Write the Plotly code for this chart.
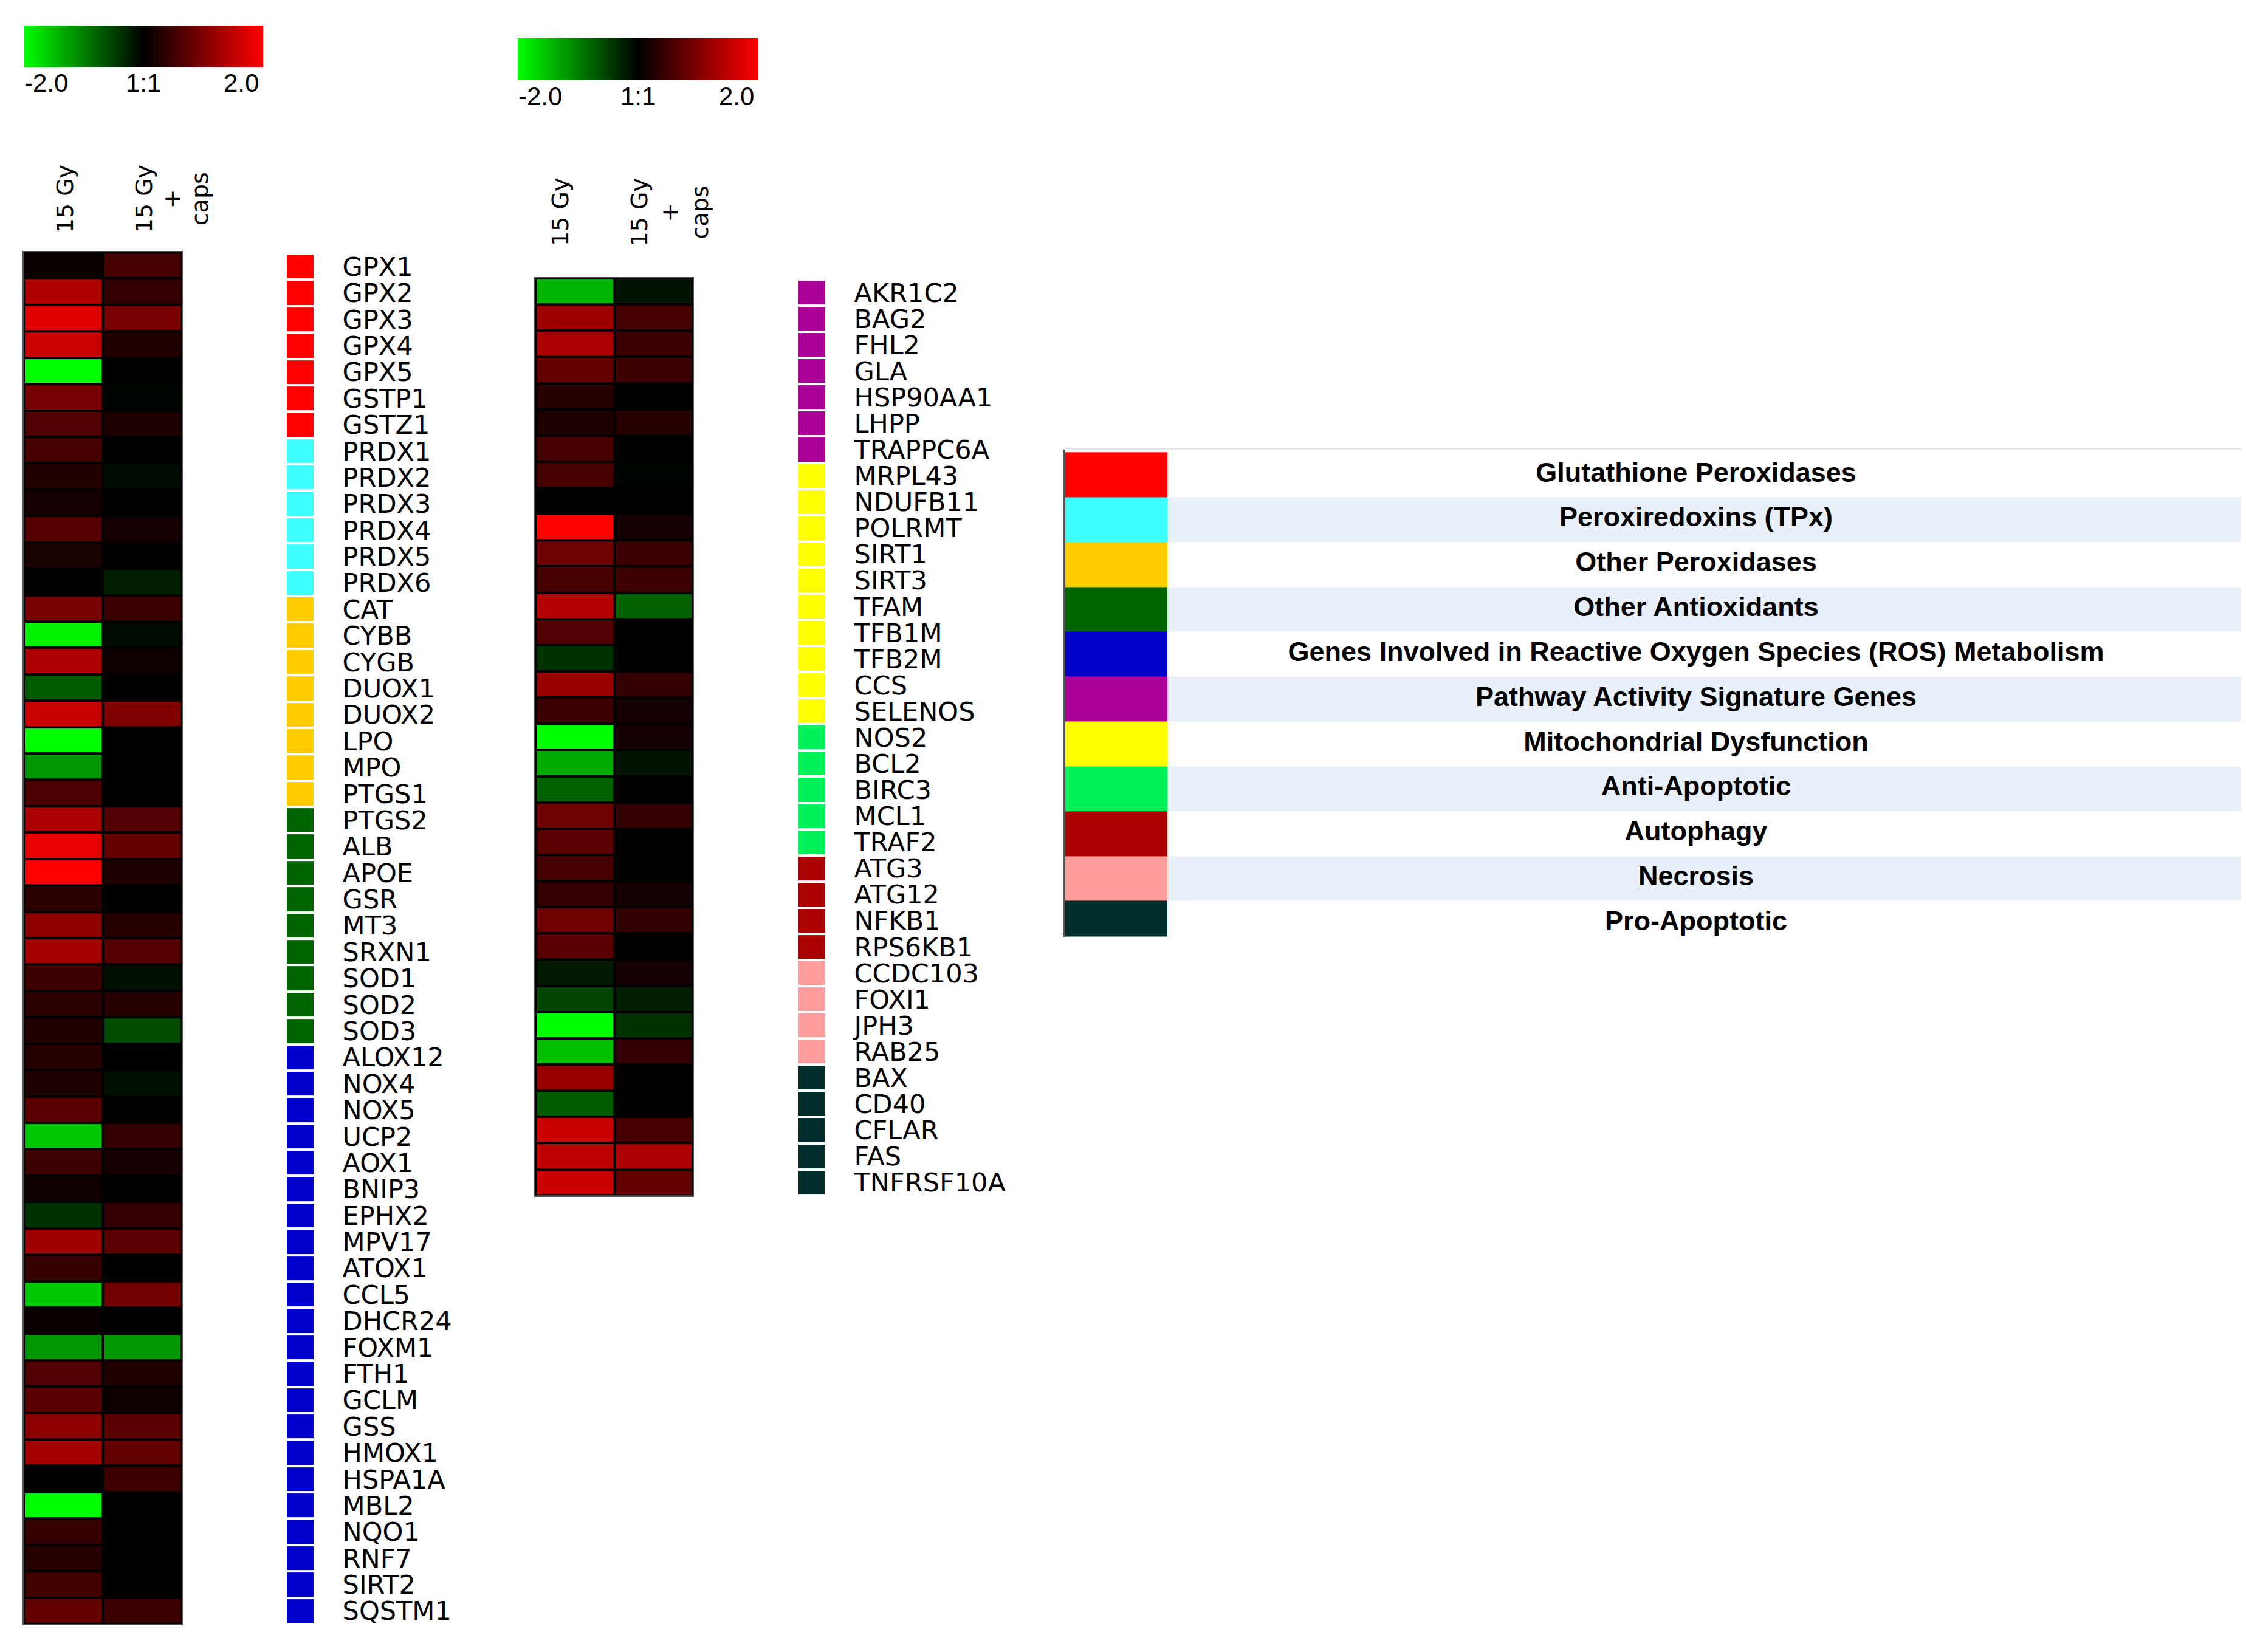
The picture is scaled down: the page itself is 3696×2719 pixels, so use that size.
import plotly.graph_objects as go

W, H = 3696, 2719

# ---------------- data ----------------
conditions = ["15 Gy", "15 Gy<br>+<br>caps"]

left_genes = ["GPX1", "GPX2", "GPX3", "GPX4", "GPX5", "GSTP1", "GSTZ1",
              "PRDX1", "PRDX2", "PRDX3", "PRDX4", "PRDX5", "PRDX6",
              "CAT", "CYBB", "CYGB", "DUOX1", "DUOX2", "LPO", "MPO", "PTGS1",
              "PTGS2", "ALB", "APOE", "GSR", "MT3", "SRXN1", "SOD1", "SOD2", "SOD3",
              "ALOX12", "NOX4", "NOX5", "UCP2", "AOX1", "BNIP3", "EPHX2", "MPV17",
              "ATOX1", "CCL5", "DHCR24", "FOXM1", "FTH1", "GCLM", "GSS", "HMOX1",
              "HSPA1A", "MBL2", "NQO1", "RNF7", "SIRT2", "SQSTM1"]
left_15gy = [0.08, 1.37, 1.76, 1.57, -2.0, 0.94, 0.63,
             0.55, 0.27, 0.16, 0.67, 0.20, 0.02,
             0.94, -1.88, 1.33, -0.71, 1.57, -2.0, -1.18, 0.59,
             1.33, 1.80, 2.0, 0.35, 1.10, 1.29, 0.47, 0.35, 0.27,
             0.31, 0.24, 0.71, -1.57, 0.47, 0.12, -0.39, 1.25,
             0.43, -1.57, 0.08, -1.18, 0.63, 0.71, 1.10, 1.29,
             0.0, -2.0, 0.43, 0.31, 0.51, 0.78]
left_15gy_caps = [0.55, 0.39, 0.94, 0.27, 0.0, -0.04, 0.24,
                  0.02, -0.08, 0.02, 0.16, 0.0, -0.24,
                  0.47, -0.08, 0.12, 0.0, 1.02, 0.0, 0.0, 0.0,
                  0.63, 0.78, 0.24, 0.02, 0.31, 0.67, -0.12, 0.31, -0.59,
                  0.02, -0.12, 0.02, 0.39, 0.16, 0.02, 0.39, 0.71,
                  0.02, 0.90, 0.0, -1.18, 0.27, 0.12, 0.71, 0.78,
                  0.47, 0.02, 0.02, 0.0, 0.02, 0.47]

mid_genes = ["AKR1C2", "BAG2", "FHL2", "GLA", "HSP90AA1", "LHPP", "TRAPPC6A",
             "MRPL43", "NDUFB11", "POLRMT", "SIRT1", "SIRT3", "TFAM", "TFB1M",
             "TFB2M", "CCS", "SELENOS",
             "NOS2", "BCL2", "BIRC3", "MCL1", "TRAF2",
             "ATG3", "ATG12", "NFKB1", "RPS6KB1",
             "CCDC103", "FOXI1", "JPH3", "RAB25",
             "BAX", "CD40", "CFLAR", "FAS", "TNFRSF10A"]
mid_15gy = [-1.41, 1.25, 1.33, 0.78, 0.31, 0.24, 0.55,
            0.55, 0.02, 2.0, 0.86, 0.55, 1.41, 0.63, -0.39, 1.18, 0.47,
            -2.0, -1.33, -0.78, 0.86, 0.71,
            0.55, 0.39, 0.86, 0.71,
            -0.20, -0.55, -2.0, -1.49,
            1.18, -0.71, 1.57, 1.49, 1.57]
mid_15gy_caps = [-0.16, 0.55, 0.47, 0.47, 0.02, 0.31, 0.0,
                 -0.04, 0.0, 0.16, 0.47, 0.47, -0.78, 0.02, 0.02, 0.39, 0.16,
                 0.16, -0.16, 0.0, 0.39, 0.02,
                 0.02, 0.16, 0.39, 0.0,
                 0.16, -0.24, -0.39, 0.39,
                 0.02, 0.0, 0.55, 1.33, 0.78]

group_names = ["Glutathione Peroxidases", "Peroxiredoxins (TPx)", "Other Peroxidases",
               "Other Antioxidants",
               "Genes Involved in Reactive Oxygen Species (ROS) Metabolism",
               "Pathway Activity Signature Genes", "Mitochondrial Dysfunction",
               "Anti-Apoptotic", "Autophagy", "Necrosis", "Pro-Apoptotic"]
group_colors = ["#FF0000", "#40FFFF", "#FFCC00", "#006400", "#0000CC",
                "#AA0099", "#FFFF00", "#00F05A", "#AA0000", "#FF9C9C", "#002E2E"]
left_group_sizes = [7, 6, 8, 9, 22]          # groups 0..4
mid_group_sizes = [7, 10, 5, 4, 4, 5]        # groups 5..10

colorbar_ticktext = ["-2.0", "1:1", "2.0"]
z_min, z_max = -2.0, 2.0

# ---------------- styling / geometry (pixels) ----------------
row_bg = ["#FFFFFF", "#EAF0FA"]
palette = group_colors + row_bg
ncol = len(palette)
disc_cs = []
for i, c in enumerate(palette):
    disc_cs.append([i / ncol, c])
    disc_cs.append([(i + 1) / ncol, c])

heat_cs = [[0.0, "rgb(0,255,0)"], [0.5, "rgb(0,0,0)"], [1.0, "rgb(255,0,0)"]]


def px(v):
    return v / W


def py(v):
    return 1 - v / H


HM1 = (31, 291, 405, 2668)
SQ1 = (464, 508, 407, 2668)
HM2 = (873, 1132, 448, 1961)
SQ2 = (1306, 1350, 450, 1961)
LEG = (1745, 3696, 731, 1534)
CB = [(31, 425, 31, 100), (844, 1240, 52.5, 121.5)]
CB_LABEL_Y = [126.0, 147.5]
CB_LABEL_INSET = [0, 0, 6]
COL_LABEL_Y = [317.0, 339.0]
COL_LABEL_SHIFT = [3, -23]
LINE_PITCH = [46, 50]

leg_swatch_w = 168
leg_total_w = LEG[1] - LEG[0]
leg_row_h = 74.0
leg_top_pad = 4.0
leg_text_x = 1038
leg_visible = (LEG[3] - LEG[2] - leg_top_pad) / leg_row_h


def dom(b):
    return [px(b[0]), px(b[1])], [py(b[3]), py(b[2])]


def expand(sizes, start):
    out = []
    for k, n in enumerate(sizes):
        out += [start + k] * n
    return out


left_gidx = expand(left_group_sizes, 0)
mid_gidx = expand(mid_group_sizes, len(left_group_sizes))

fig = go.Figure()

panels = [
    (left_genes, left_15gy, left_15gy_caps, left_gidx, "x", "y", "x2", "y2"),
    (mid_genes, mid_15gy, mid_15gy_caps, mid_gidx, "x3", "y3", "x4", "y4"),
]

for p, (genes, a, b, gidx, xa, ya, xs, ys) in enumerate(panels):
    cb = CB[p]
    fig.add_trace(go.Heatmap(
        z=[[u, v] for u, v in zip(a, b)], x=[0, 1], y=genes,
        colorscale=heat_cs, zmin=z_min, zmax=z_max, xgap=4, ygap=4,
        xaxis=xa, yaxis=ya, hoverinfo="skip",
        showscale=True,
        colorbar=dict(orientation="h", x=px(cb[0]), xanchor="left",
                      y=py(cb[2]), yanchor="top", len=(cb[1] - cb[0]) / W,
                      lenmode="fraction", thickness=cb[3] - cb[2],
                      thicknessmode="pixels", outlinewidth=0, xpad=0, ypad=0,
                      showticklabels=False, ticks=""),
    ))
    fig.add_trace(go.Heatmap(
        z=[[g] for g in gidx], x=[0], y=genes,
        colorscale=disc_cs, zmin=-0.5, zmax=ncol - 0.5, ygap=4,
        showscale=False, xaxis=xs, yaxis=ys, hoverinfo="skip",
    ))

# legend table
fig.add_trace(go.Heatmap(
    z=[[i, len(group_colors) + (i % 2)] for i in range(len(group_names))],
    x=[0, leg_swatch_w, leg_total_w], y=list(range(len(group_names) + 1)),
    colorscale=disc_cs, zmin=-0.5, zmax=ncol - 0.5, showscale=False,
    xaxis="x5", yaxis="y5", hoverinfo="skip",
))
fig.add_trace(go.Scatter(
    x=[leg_text_x] * len(group_names),
    y=[i + 0.5 for i in range(len(group_names))],
    text=group_names, mode="text", cliponaxis=True,
    textfont=dict(family="Liberation Sans", size=45, color="black", weight="bold"),
    xaxis="x5", yaxis="y5", hoverinfo="skip", showlegend=False,
))

hidden = dict(showgrid=False, zeroline=False, showticklabels=False, ticks="")
layout = dict(width=W, height=H, autosize=False, margin=dict(l=0, r=0, t=0, b=0),
              paper_bgcolor="white", plot_bgcolor="white", showlegend=False)

for p, (box, sq, genes) in enumerate([(HM1, SQ1, left_genes), (HM2, SQ2, mid_genes)]):
    n = len(genes)
    xd, yd = dom(box)
    sxd, syd = dom(sq)
    i = 2 * p + 1
    sx = "" if i == 1 else str(i)
    layout["xaxis" + sx] = dict(domain=xd, anchor="y" + sx, range=[-0.5, 1.5],
                                showline=True, mirror=True, linecolor="#555",
                                linewidth=2, **hidden)
    layout["yaxis" + sx] = dict(domain=yd, anchor="x" + sx, type="category",
                                range=[n - 0.5, -0.5], showline=True, mirror=True,
                                linecolor="#555", linewidth=2, **hidden)
    s2 = str(i + 1)
    layout["xaxis" + s2] = dict(domain=sxd, anchor="y" + s2, range=[-0.5, 0.5], **hidden)
    layout["yaxis" + s2] = dict(domain=syd, anchor="x" + s2, type="category",
                                range=[n - 0.5, -0.5], side="right",
                                showgrid=False, zeroline=False,
                                tickmode="array", tickvals=genes, ticktext=genes,
                                ticks="outside", ticklen=38,
                                tickcolor="rgba(0,0,0,0)",
                                tickfont=dict(family="DejaVu Sans", size=43,
                                              color="black"))

lxd, lyd = dom(LEG)
layout["xaxis5"] = dict(domain=lxd, anchor="y5", range=[0, leg_total_w], side="top",
                        showline=True, linecolor="#E4E4E4", linewidth=3, **hidden)
layout["yaxis5"] = dict(domain=lyd, anchor="x5",
                        range=[leg_visible, -leg_top_pad / leg_row_h],
                        showline=True, linecolor="#555555", linewidth=3, **hidden)

shapes = []
for ax in ["", "3"]:
    shapes.append(dict(type="rect", xref="x%s domain" % ax, yref="y%s domain" % ax,
                       x0=0, x1=1, y0=0, y1=1, fillcolor="black",
                       line=dict(width=0), layer="below"))
layout["shapes"] = shapes

annotations = []
# colour-bar labels
for p, cb in enumerate(CB):
    xs = [cb[0] + CB_LABEL_INSET[0], (cb[0] + cb[1]) / 2 + CB_LABEL_INSET[1],
          cb[1] - CB_LABEL_INSET[2]]
    anchors = ["left", "center", "right"]
    for t, xv, an in zip(colorbar_ticktext, xs, anchors):
        annotations.append(dict(text=t, x=px(xv), y=py(CB_LABEL_Y[p]), xref="paper",
                                yref="paper", xanchor=an, yanchor="middle",
                                showarrow=False, borderpad=0,
                                font=dict(family="Liberation Sans", size=42,
                                          color="black")))
# column labels (rotated)
for p, xa in enumerate(["x", "x3"]):
    for ci, lab in enumerate(conditions):
        for k, line in enumerate(lab.split("<br>")):
            annotations.append(dict(text=line, x=ci, xref=xa, y=py(COL_LABEL_Y[p]),
                                    yref="paper", xanchor="center", yanchor="middle",
                                    xshift=COL_LABEL_SHIFT[p] + k * LINE_PITCH[p],
                                    textangle=-90, showarrow=False,
                                    font=dict(family="DejaVu Sans", size=38,
                                              color="black")))
layout["annotations"] = annotations

fig.update_layout(**layout)
fig.write_html("out.html")
